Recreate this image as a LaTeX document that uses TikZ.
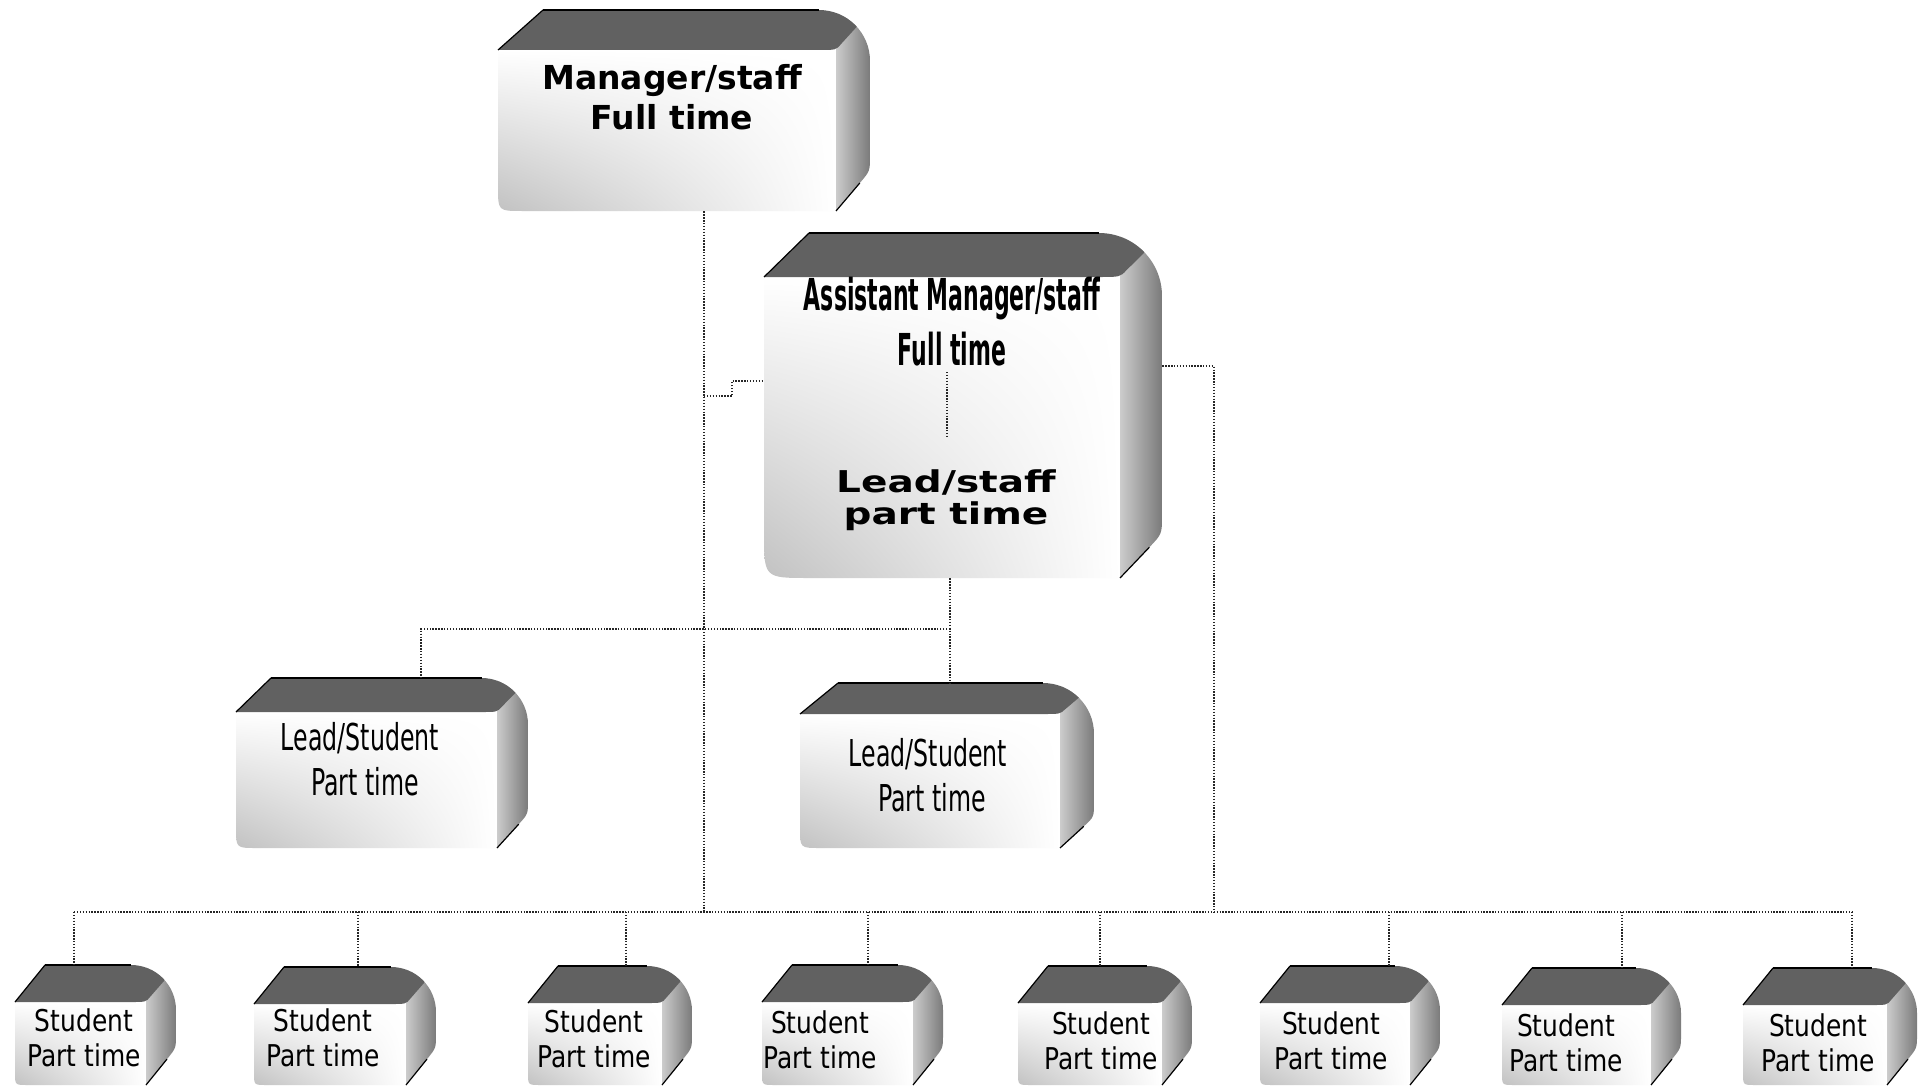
\documentclass[tikz,border=0pt]{standalone}
\usetikzlibrary{shadings}
\usepackage{fontspec}
\setmainfont{DejaVu Sans}
\newfontfamily\fMgr{DejaVu Sans}
\newfontfamily\fAsst[FakeStretch=0.5]{DejaVu Sans}
\newfontfamily\fLeadS[FakeStretch=1.3]{DejaVu Sans}
\newfontfamily\fLeadSt[FakeStretch=0.64]{DejaVu Sans}
\newfontfamily\fStud[FakeStretch=0.83]{DejaVu Sans}

\tikzset{
  conn/.style={line width=1.4pt, dash pattern=on 1.4pt off 1.5pt, black!85},
  topface/.style={fill=black!62},
  sideface/.style={left color=black!20, right color=black!52},
  frontface/.style={shading=bilinear interpolation, upper left=white, lower left=black!24, upper right=white, lower right=white},
  lbl/.style={inner sep=0pt, anchor=base},
  mgrtxt/.style={lbl, font=\fontsize{33}{38}\fMgr\bfseries},
  assttxt/.style={lbl, font=\fontsize{44}{50}\fAsst\bfseries},
  lstafftxt/.style={lbl, font=\fontsize{30}{36}\fLeadS\bfseries},
  lstudtxt/.style={lbl, font=\fontsize{37}{42}\fLeadSt},
  studtxt/.style={lbl, font=\fontsize{30}{36}\fStud},
}

% #1 name, #2 x0 (front left), #3 front top, #4 x1 (front right), #5 front bottom,
% #6 left slant dx, #7 side depth dx, #8 depth dy
\newcommand\cubeA[8]{%
  \pgfmathsetmacro\cubT{#3-#8}%
  \pgfmathsetmacro\cubR{#4+#7}%
  \pgfmathsetmacro\cubL{#2+#6}%
  \pgfmathsetmacro\cubB{#5-#8}%
  \pgfmathsetmacro\cubRad{1.5*#7}%
  \pgfmathsetmacro\cubBl{0.15*(#5-#3)}%
  \shade[frontface] (#2,#3) -- (#4,#3) -- (#4,#5) -- ({#2+\cubBl},#5) .. controls (#2,#5) .. (#2,{#5-\cubBl}) -- cycle;
  \begin{scope}
    \path[clip] (#2,#3) -- (\cubL,\cubT) -- ({\cubR-\cubRad},\cubT)
      .. controls ({\cubR-0.448*\cubRad},\cubT) and (\cubR,{\cubT+0.448*\cubRad}) .. (\cubR,{\cubT+\cubRad})
      -- (\cubR,{\cubB-0.3*\cubRad}) .. controls (\cubR,\cubB) .. ({\cubR-0.3*#7},{\cubB+0.3*#8}) -- (#4,#5) -- (#4,#3) -- cycle;
    \shade[sideface] (#4,\cubT) rectangle (\cubR,#5);
    \fill[topface] (#2,#3) -- (\cubL,\cubT) -- ({\cubR+2},\cubT) -- ({#4+0.15*#7},{#3-0.15*#8}) .. controls (#4,#3) .. ({#4-0.5*#7},#3) -- cycle;
  \end{scope}
  \draw[line width=1.2pt] (#2,#3) -- (\cubL,\cubT);
  \draw[line width=2.2pt] (\cubL,\cubT) -- ({\cubR-\cubRad},\cubT);
  \draw[line width=1.2pt] ({\cubR-0.3*#7},{\cubB+0.3*#8}) -- (#4,#5);
  \node[inner sep=0pt, minimum width={\cubR-#2}, minimum height={#5-\cubT}, anchor=north west] (#1) at (#2,\cubT) {};
}

\begin{document}
\begin{tikzpicture}[x=1pt, y=-1pt]
\useasboundingbox (0,0) rectangle (1927,1089);
\fill[white] (0,0) rectangle (1927,1089);

\coordinate (bus) at (704,912);
\coordinate (busL) at (74,912);
\coordinate (busR) at (1852,912);
\coordinate (st1) at (704,396);
\coordinate (st2) at (732,381);
\coordinate (hj) at (950,629);
\coordinate (hl) at (421,629);
\coordinate (rc) at (1214,366);
\coordinate (ai1) at (947,372);
\coordinate (ai2) at (947,436);

% ---------- boxes ----------
\cubeA{mgr}{498}{50}{836}{211}{45}{34}{40}
\cubeA{asst}{764}{277}{1120}{578}{45}{42}{44}
\cubeA{leadL}{236}{712}{497}{848}{35}{31}{34}
\cubeA{leadR}{800}{714}{1060}{848}{38}{34}{31}
\cubeA{s1}{15}{1002}{146}{1085}{30}{30}{37}
\cubeA{s2}{254}{1004}{406}{1085}{30}{30}{37}
\cubeA{s3}{528}{1003}{662}{1085}{30}{30}{37}
\cubeA{s4}{762}{1002}{913}{1085}{30}{30}{37}
\cubeA{s5}{1018}{1003}{1162}{1085}{30}{30}{37}
\cubeA{s6}{1260}{1003}{1410}{1085}{30}{30}{37}
\cubeA{s7}{1502}{1005}{1651}{1085}{30}{30}{37}
\cubeA{s8}{1743}{1005}{1887}{1085}{30}{30}{37}

% ---------- connectors ----------
\draw[conn] (mgr.south -| bus) -- (bus);
\draw[conn] (st1) -| (st2) -- (st2 -| asst.west);
\draw[conn] (ai1) -- (ai2);
\draw[conn] (asst.south -| hj) -- (hj) -- (hj |- leadR.north);
\draw[conn] (hj) -- (hl) -- (hl |- leadL.north);
\draw[conn] (asst.east |- rc) -- (rc) -- (rc |- busR);
\draw[conn] (busL) -- (busR);
\foreach \i/\x in {1/74,2/358,3/626,4/868,5/1100,6/1389,7/1622,8/1852}{
  \coordinate (d\i) at (\x,912);
  \draw[conn] (d\i) -- (d\i |- s\i.north);
}

% ---------- texts ----------
\node[mgrtxt] (mgrA) at (672,90) {Manager/staff};
\node[mgrtxt] (mgrB) at (672,130) {Full time};
\node[assttxt] (asstA) at (952,310) {Assistant Manager/staff};
\node[assttxt] (asstB) at (952,365) {Full time};
\node[lstafftxt] (lsA) at (946,492) {Lead/staff};
\node[lstafftxt] (lsB) at (946,524) {part time};
\node[lstudtxt] (llA) at (360,750) {Lead/Student};
\node[lstudtxt] (llB) at (365,795) {Part time};
\node[lstudtxt] (lrA) at (928,766) {Lead/Student};
\node[lstudtxt] (lrB) at (932,811) {Part time};
\foreach \i/\x/\y in {1/84/1031,2/323/1031,3/594/1032,4/820/1033,5/1101/1034,6/1331/1034,7/1566/1036,8/1818/1036}{
  \node[studtxt] (tA\i) at (\x,\y) {Student};
  \node[studtxt] (tB\i) at (\x,{\y+35}) {Part time};
}
\end{tikzpicture}
\end{document}
